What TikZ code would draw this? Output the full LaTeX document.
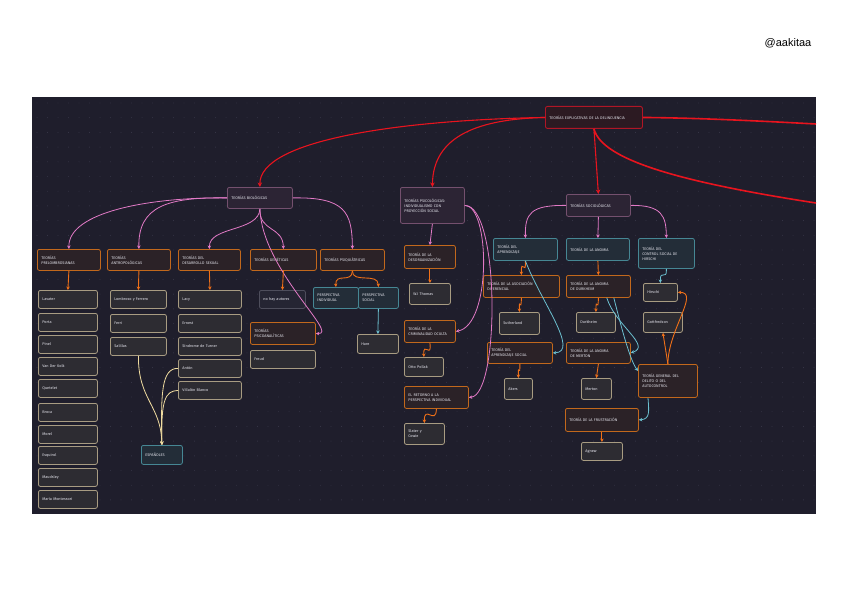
\documentclass[tikz,border=0pt]{standalone}
\usepackage{fontspec}
\setmainfont{Fira Sans}
\newfontfamily\handlefont{Liberation Sans}
\usetikzlibrary{arrows.meta}
\definecolor{bg}{HTML}{1F1E2C}
\definecolor{dotc}{HTML}{3A394B}
\definecolor{txt}{HTML}{E4E4EC}
\definecolor{titleB}{HTML}{B01626}
\definecolor{titleF}{HTML}{2C1A22}
\definecolor{pinkB}{HTML}{74506E}
\definecolor{pinkF}{HTML}{2C2434}
\definecolor{oraB}{HTML}{C2681C}
\definecolor{oraF}{HTML}{2B2227}
\definecolor{tealB}{HTML}{468794}
\definecolor{tealF}{HTML}{232D38}
\definecolor{leafB}{HTML}{A89C82}
\definecolor{leafF}{HTML}{2D2C32}
\definecolor{darkB}{HTML}{4E4E5C}
\definecolor{darkF}{HTML}{252533}
\definecolor{redc}{HTML}{E8141E}
\definecolor{pinkc}{HTML}{E27AC6}
\definecolor{orac}{HTML}{F07018}
\definecolor{tealc}{HTML}{6CC0D0}
\definecolor{begc}{HTML}{F0DCA0}
\newcommand\ndbox[7]{%
  \pgfmathsetmacro\tw{#5-8}%
  \node[#1, anchor=north west, minimum width=#5pt, minimum height=#6pt, text width=\tw pt] (#2) at (#3,#4) {#7};}
\begin{document}
\begin{tikzpicture}[x=1pt,y=-1pt,
  base/.style={draw, rounded corners=2pt, line width=0.8pt, inner xsep=4pt, inner ysep=1pt,
    align=left, text=txt, font=\fontsize{3.8}{4.9}\selectfont},
  tbox/.style={base, draw=titleB, fill=titleF, line width=0.9pt},
  pbox/.style={base, draw=pinkB, fill=pinkF},
  obox/.style={base, draw=oraB, fill=oraF},
  cbox/.style={base, draw=tealB, fill=tealF},
  lbox/.style={base, draw=leafB, fill=leafF},
  dbox/.style={base, draw=darkB, fill=darkF},
  redE/.style={draw=redc, line width=1.1pt, -{Stealth[length=4.5pt,width=4.5pt]}},
  redL/.style={draw=redc, line width=1.6pt},
  pinkE/.style={draw=pinkc, line width=0.8pt, -{Stealth[length=3.5pt,width=3.5pt]}},
  oraE/.style={draw=orac, line width=0.9pt, -{Stealth[length=3.5pt,width=3.5pt]}},
  tealE/.style={draw=tealc, line width=0.8pt, -{Stealth[length=3.5pt,width=3.5pt]}},
  begE/.style={draw=begc, line width=0.8pt, -{Stealth[length=3.5pt,width=3.5pt]}}
]
\useasboundingbox (0,0) rectangle (848,599);
\fill[white] (0,0) rectangle (848,599);
\fill[bg] (32,97) rectangle (816,514);
\foreach \i in {0,...,74} {\foreach \j in {0,...,27} {\fill[dotc] (37+\i*10.5,103+\j*14.7) circle (0.45pt);}}
\node[text=black, font=\handlefont\fontsize{11}{13}\selectfont] (handle) at (788,43) {@aakitaa};

% main nodes
\ndbox{tbox}{title}{545}{106}{97}{22}{TEORÍAS EXPLICATIVAS DE LA DELINCUENCIA}
\ndbox{pbox}{bio}{227}{187}{65}{21}{TEORÍAS BIOLÓGICAS}
\ndbox{pbox}{psi}{400}{187}{64}{36}{TEORÍAS PSICOLÓGICAS:\\INDIVIDUALISMO CON\\PROYECCIÓN SOCIAL}
\ndbox{pbox}{soc}{566}{194}{64}{22}{TEORÍAS SOCIOLÓGICAS}

% biological branch
\ndbox{obox}{pre}{37}{249}{63}{21}{TEORÍAS\\PRELOMBROSIANAS}
\ndbox{obox}{ant}{107}{249}{63}{21}{TEORÍAS\\ANTROPOLÓGICAS}
\ndbox{obox}{des}{178}{249}{62}{21}{TEORÍAS DEL\\DESARROLLO SEXUAL}
\ndbox{obox}{gen}{250}{249}{66}{21}{TEORÍAS GENÉTICAS}
\ndbox{obox}{psq}{320}{249}{64}{21}{TEORÍAS PSIQUIÁTRICAS}

\ndbox{lbox}{p1}{38}{290}{59}{18}{Lavater}
\ndbox{lbox}{p2}{38}{313}{59}{18}{Porta}
\ndbox{lbox}{p3}{38}{335}{59}{18}{Pinel}
\ndbox{lbox}{p4}{38}{357}{59}{18}{Van Der Kolk}
\ndbox{lbox}{p5}{38}{379}{59}{18}{Quetelet}
\ndbox{lbox}{p6}{38}{403}{59}{18}{Broca}
\ndbox{lbox}{p7}{38}{425}{59}{18}{Morel}
\ndbox{lbox}{p8}{38}{446}{59}{18}{Esquirol}
\ndbox{lbox}{p9}{38}{468}{59}{18}{Maudsley}
\ndbox{lbox}{p10}{38}{490}{59}{18}{María Montessori}

\ndbox{lbox}{a1}{110}{290}{56}{18}{Lombroso y Ferrero}
\ndbox{lbox}{a2}{110}{314}{56}{18}{Ferri}
\ndbox{lbox}{a3}{110}{337}{56}{18}{Salillas}

\ndbox{lbox}{d1}{178}{290}{63}{18}{Lacy}
\ndbox{lbox}{d2}{178}{314}{63}{18}{Ernest}
\ndbox{lbox}{d3}{178}{337}{63}{18}{Síndrome de Turner}
\ndbox{lbox}{d4}{178}{359}{63}{18}{Antón}
\ndbox{lbox}{d5}{178}{381}{63}{18}{Villalón Blanco}

\ndbox{cbox}{esp}{141}{445}{41}{19}{ESPAÑOLES}

\ndbox{dbox}{nohay}{259}{290}{46}{18}{no hay autores}
\ndbox{obox}{psa}{250}{322}{65}{22}{TEORÍAS\\PSICOANALÍTICAS}
\ndbox{lbox}{freud}{250}{350}{65}{18}{Freud}

\ndbox{cbox}{pi}{313}{287}{45}{21}{PERSPECTIVA\\INDIVIDUAL}
\ndbox{cbox}{ps}{358}{287}{40}{21}{PERSPECTIVA\\SOCIAL}
\ndbox{lbox}{hare}{357}{334}{41}{19}{Hare}

% psychological branch
\ndbox{obox}{teo1}{404}{245}{51}{23}{TEORÍA DE LA\\DESORGANIZACIÓN}
\ndbox{lbox}{thomas}{409}{283}{41}{21}{W.I Thomas}
\ndbox{obox}{car}{404}{320}{51}{22}{TEORÍA DE LA\\CRIMINALIDAD OCULTA}
\ndbox{lbox}{otto}{404}{357}{39}{19}{Otto Pollak}
\ndbox{obox}{ret}{404}{386}{64}{22}{EL RETORNO A LA\\PERSPECTIVA INDIVIDUAL}
\ndbox{lbox}{slater}{404}{423}{40}{21}{Slater y\\Cowie}

% sociological branch
\ndbox{cbox}{apr}{493}{238}{64}{22}{TEORÍA DEL\\APRENDIZAJE}
\ndbox{obox}{aso}{483}{275}{76}{22}{TEORÍA DE LA ASOCIACIÓN\\DIFERENCIAL}
\ndbox{lbox}{suth}{499}{312}{40}{22}{Sutherland}
\ndbox{obox}{aps}{487}{342}{65}{21}{TEORÍA DEL\\APRENDIZAJE SOCIAL}
\ndbox{lbox}{akers}{504}{378}{28}{21}{Akers}

\ndbox{cbox}{ano}{566}{238}{63}{22}{TEORÍA DE LA ANOMIA}
\ndbox{obox}{anod}{566}{275}{64}{22}{TEORÍA DE LA ANOMIA\\DE DURKHEIM}
\ndbox{lbox}{durk}{576}{312}{39}{20}{Durkheim}
\ndbox{obox}{anom}{566}{342}{64}{21}{TEORÍA DE LA ANOMIA\\DE MERTON}
\ndbox{lbox}{merton}{581}{378}{30}{21}{Merton}
\ndbox{obox}{fru}{565}{408}{73}{23}{TEORÍA DE LA FRUSTRACIÓN}
\ndbox{lbox}{agnew}{581}{442}{41}{18}{Agnew}

\ndbox{cbox}{ctl}{638}{238}{56}{30}{TEORÍA DEL\\CONTROL SOCIAL DE\\HIRSCHI}
\ndbox{lbox}{hir}{643}{283}{34}{18}{Hirschi}
\ndbox{lbox}{got}{643}{312}{39}{20}{Gottfredson}
\ndbox{obox}{gral}{638}{364}{59}{33}{TEORÍA GENERAL DEL\\DELITO O DEL\\AUTOCONTROL}

% red connectors
\coordinate (r1) at (816,124);
\coordinate (r2) at (816,203);
\draw[redE] (title.west) .. controls (400,120) and (259,140) .. (bio.north);
\draw[redE] (title.west) .. controls (480,119) and (433,135) .. (psi.north);
\draw[redE] (title.south) -- (soc.north);
\draw[redL] (title.east) .. controls (700,118) and (760,121) .. (r1);
\draw[redL] (title.south) .. controls (602,160) and (680,182) .. (r2);

% pink connectors
\draw[pinkE] (bio.west) .. controls (150,197) and (68,212) .. (pre.north);
\draw[pinkE] (bio.west) .. controls (168,197) and (138,206) .. (ant.north);
\draw[pinkE] (bio.south) .. controls (259,232) and (209,226) .. (des.north);
\draw[pinkE] (bio.south) .. controls (259,232) and (283,226) .. (gen.north);
\draw[pinkE] (bio.east) .. controls (345,197) and (352,212) .. (psq.north);
\draw[pinkE] (bio.south) .. controls (262,270) and (340,335) .. (psa.east);
\draw[pinkE] (psi.south) -- (teo1.north);
\draw[pinkE] (psi.east) .. controls (490,205) and (492,325) .. (car.east);
\draw[pinkE] (psi.east) .. controls (500,205) and (500,395) .. (ret.east);
\draw[pinkE] (soc.west) .. controls (530,205) and (525,214) .. (apr.north);
\draw[pinkE] (soc.south) -- (ano.north);
\draw[pinkE] (soc.east) .. controls (662,205) and (666,216) .. (ctl.north);

% orange connectors
\draw[oraE] (pre.south) -- (p1.north);
\draw[oraE] (ant.south) -- (a1.north);
\draw[oraE] (des.south) -- (d1.north);
\draw[oraE] (gen.south) -- (nohay.north);
\draw[oraE] (psq.south) .. controls (352,284) and (335,272) .. (pi.north);
\draw[oraE] (psq.south) .. controls (352,284) and (378,272) .. (ps.north);
\draw[oraE] (teo1.south) -- (thomas.north);
\draw[oraE] (car.south) .. controls (432,360) and (423,340) .. (otto.north);
\draw[oraE] (ret.south) .. controls (436,426) and (424,404) .. (slater.north);
\draw[oraE] (apr.south) .. controls (526,278) and (521,256) .. (aso.north);
\draw[oraE] (aso.south) .. controls (521,315) and (519,295) .. (suth.north);
\draw[oraE] (aps.south) .. controls (520,380) and (518,361) .. (akers.north);
\draw[oraE] (ano.south) -- (anod.north);
\draw[oraE] (anod.south) .. controls (598,315) and (596,295) .. (durk.north);
\draw[oraE] (anom.south) -- (merton.north);
\draw[oraE] (fru.south) -- (agnew.north);
\draw[oraE] (gral.north) -- (got.south);
\draw[oraE] (gral.north) .. controls (668,330) and (700,292) .. (hir.east);

% teal connectors
\draw[tealE] (ps.south) -- (hare.north);
\draw[tealE] (apr.south) .. controls (540,300) and (580,352) .. (aps.east);
\draw[tealE] ([xshift=-24pt]anod.south east) .. controls (615,325) and (652,346) .. (anom.east);
\draw[tealE] ([xshift=-17pt]anod.south east) .. controls (622,330) and (630,360) .. ([yshift=-7pt]gral.north west);
\draw[tealE] ([xshift=10pt]gral.south west) .. controls (649,412) and (650,419) .. (fru.east);
\draw[tealE] (ctl.south) .. controls (667,282) and (660,268) .. (hir.north);

% beige connectors
\draw[begE] (a3.south) .. controls (138,400) and (161,405) .. (esp.north);
\draw[begE] (d4.west) .. controls (161,368) and (161,395) .. (esp.north);
\draw[begE] (d5.west) .. controls (165,391) and (161,400) .. (esp.north);
\end{tikzpicture}
\end{document}
